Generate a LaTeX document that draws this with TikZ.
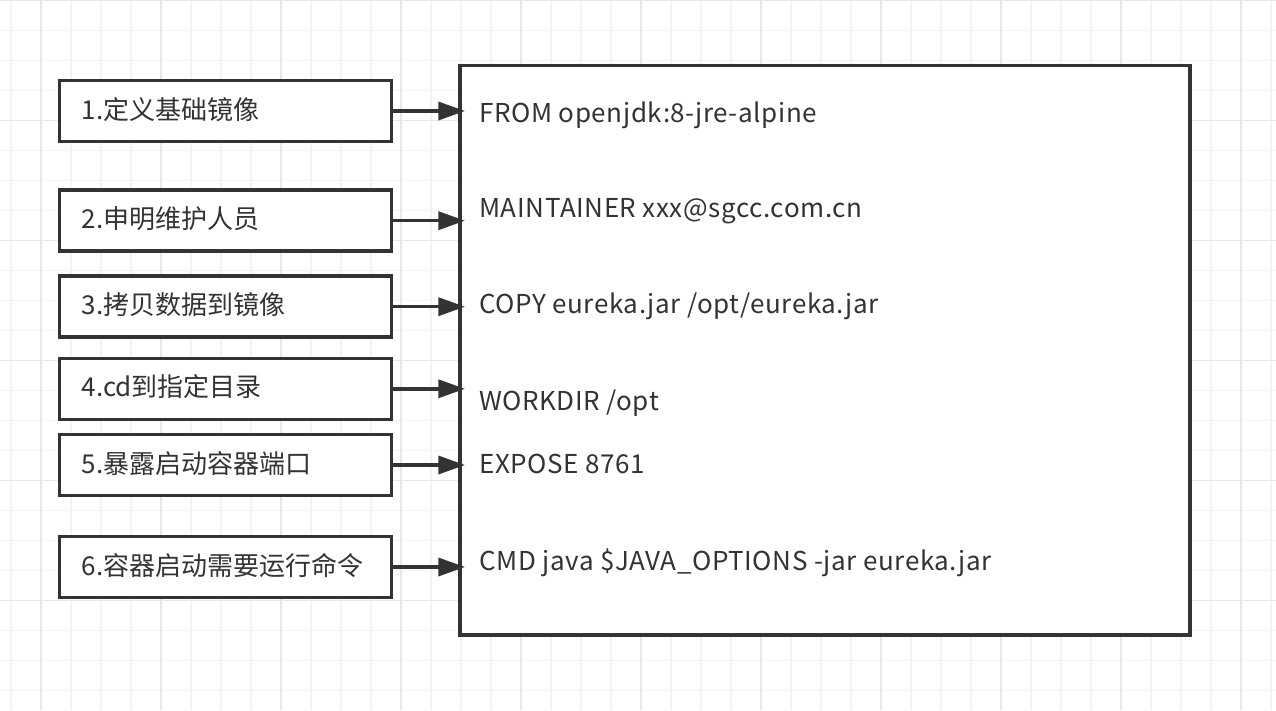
\documentclass[tikz,border=0pt]{standalone}
\usepackage{fontspec}
\setmainfont{Noto Sans CJK SC}
\newfontfamily\latinfont[LetterSpace=2.3]{Noto Sans CJK SC}
\usetikzlibrary{arrows.meta}
\definecolor{ink}{HTML}{333333}
\definecolor{gridminor}{HTML}{F3F3F3}
\definecolor{gridmajor}{HTML}{E8E8E8}
\begin{document}
\begin{tikzpicture}[x=0.75pt,y=-0.75pt,
  txt/.style={font=\fontsize{19.5pt}{23pt}\selectfont, text=ink},
  lbox/.style={txt, draw=ink, line width=2.6pt, fill=white, minimum height=45.75pt,
    text width=216pt, inner xsep=16.5pt, inner ysep=0pt, align=left, anchor=west,
    text height=15pt, text depth=3pt},
  bigbox/.style={draw=ink, line width=2.6pt, fill=white, inner sep=0pt, anchor=north west,
    minimum width=547.5pt, minimum height=427pt},
  code/.style={font=\latinfont\fontsize{19.5pt}{23pt}\selectfont, text=ink, inner sep=0pt, anchor=base west},
  conn/.style={draw=ink, line width=2.6pt, -{Triangle[length=20pt,width=13.5pt]}},
  gmin/.style={draw=gridminor, line width=0.9pt},
  gmaj/.style={draw=gridmajor, line width=1pt}
]
\useasboundingbox[fill=white] (0,0) rectangle (1276,710);
% grid
\foreach \i in {0,...,42} \draw[gmin] ({11+30*\i},0) -- ({11+30*\i},710);
\foreach \i in {0,...,23} \draw[gmin] (0,{0.7+30*\i}) -- (1276,{0.7+30*\i});
\foreach \i in {0,...,10} \draw[gmaj] ({41+120*\i},0) -- ({41+120*\i},710);
\foreach \i in {0,...,5} \draw[gmaj] (0,{0.7+120*\i}) -- (1276,{0.7+120*\i});

% left boxes
\node[lbox] (b1) at (58,111) {1.定义基础镜像};
\node[lbox] (b2) at (58,220.7) {2.申明维护人员};
\node[lbox] (b3) at (58,306.7) {3.拷贝数据到镜像};
\node[lbox] (b4) at (58,388.8) {4.cd到指定目录};
\node[lbox] (b5) at (58,465) {5.暴露启动容器端口};
\node[lbox] (b6) at (58,567) {6.容器启动需要运行命令};

% main box
\node[bigbox] (main) at (458.3,64) {};
\node[code] (c1) at (479,122) {FROM openjdk:8-jre-alpine};
\node[code] (c2) at (479,217) {MAINTAINER xxx@sgcc.com.cn};
\node[code] (c3) at (479,313) {COPY eureka.jar /opt/eureka.jar};
\node[code] (c4) at (479,410) {WORKDIR /opt};
\node[code] (c5) at (479,473) {EXPOSE 8761};
\node[code] (c6) at (479,570) {CMD java \$JAVA\_OPTIONS -jar eureka.jar};

% arrows
\coordinate (tipx) at (465,0);
\foreach \b in {b1,b2,b3,b4,b5,b6}
  \draw[conn] (\b.east) -- (\b.east -| tipx);
\end{tikzpicture}
\end{document}
